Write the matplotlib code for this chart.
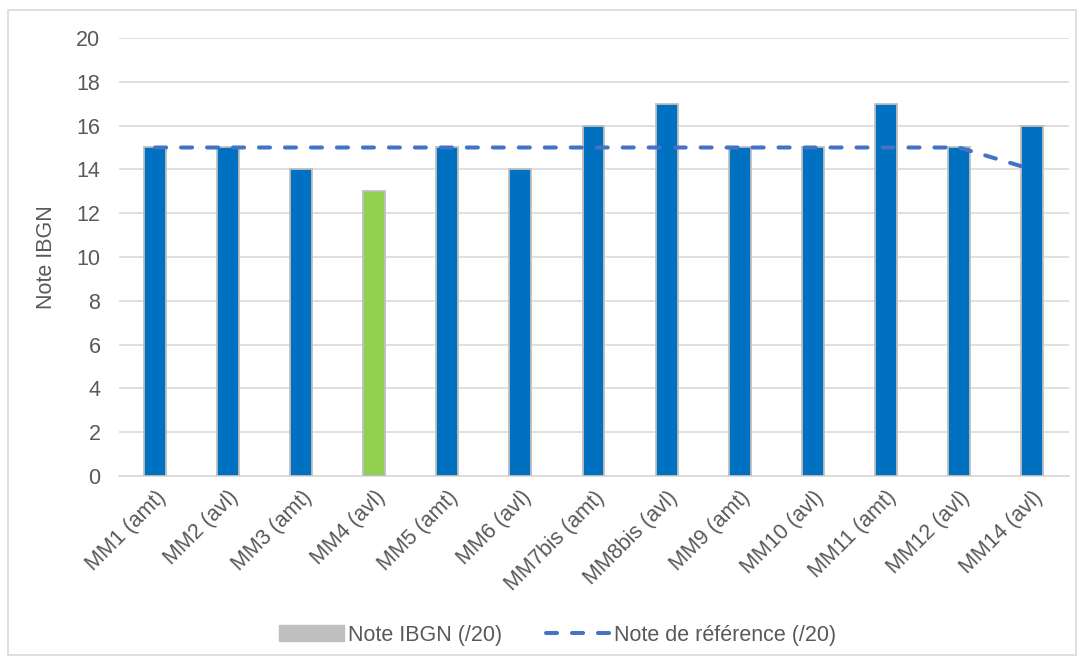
import matplotlib
matplotlib.use("Agg")
import matplotlib.pyplot as plt
from matplotlib.patches import Patch, Rectangle
from matplotlib.lines import Line2D

plt.rcParams['font.family'] = ['Liberation Sans', 'DejaVu Sans']

categories = ["MM1 (amt)", "MM2 (avl)", "MM3 (amt)", "MM4 (avl)", "MM5 (amt)", "MM6 (avl)",
              "MM7bis (amt)", "MM8bis (avl)", "MM9 (amt)", "MM10 (avl)", "MM11 (amt)",
              "MM12 (avl)", "MM14 (avl)"]
ibgn = [15, 15, 14, 13, 15, 14, 16, 17, 15, 15, 17, 15, 16]
reference = [15, 15, 15, 15, 15, 15, 15, 15, 15, 15, 15, 15, 14]
bar_colors = ["#0070C0", "#0070C0", "#0070C0", "#92D050", "#0070C0", "#0070C0", "#0070C0",
              "#0070C0", "#0070C0", "#0070C0", "#0070C0", "#0070C0", "#0070C0"]
yticks = [0, 2, 4, 6, 8, 10, 12, 14, 16, 18, 20]

FS = 15.5
DASH = (0, (2.75, 3.7))
W, H = 1081, 661
fig = plt.figure(figsize=(W / 100, H / 100), dpi=100)
ax = fig.add_axes([118.5 / W, 1 - 476 / H, (1068.5 - 118.5) / W, (476 - 38) / H])

x = list(range(len(categories)))
ax.bar(x, ibgn, width=0.3, color=bar_colors, edgecolor="#BFBFBF", linewidth=1.3, zorder=3)
ax.plot(x, reference, color="#4472C4", linewidth=2.9, linestyle=DASH,
        zorder=4, dash_capstyle='round')

ax.set_xlim(-0.5, len(categories) - 0.5)
ax.set_ylim(0, 20)
ax.set_yticks(yticks)
ax.yaxis.grid(True, color="#D9D9D9", linewidth=1.2, zorder=0)
ax.set_axisbelow(True)
for s in ["top", "right", "left"]:
    ax.spines[s].set_visible(False)
ax.spines["bottom"].set_color("#D9D9D9")
ax.spines["bottom"].set_linewidth(1.2)
ax.tick_params(axis="both", length=0, labelsize=FS, labelcolor="#595959")
ax.tick_params(axis="y", pad=13)
ax.set_xticks(x)
ax.set_xticklabels(categories, rotation=45, ha="right", rotation_mode="anchor")
ax.tick_params(axis="x", pad=8)
ax.set_ylabel("Note IBGN", fontsize=FS, color="#595959", labelpad=14)

handles = [Patch(facecolor="#BFBFBF", edgecolor="#BFBFBF"),
           Line2D([0], [0], color="#4472C4", linewidth=2.9, linestyle=DASH,
                  dash_capstyle='round')]
fig.legend(handles, ["Note IBGN (/20)", "Note de référence (/20)"], loc="center",
           bbox_to_anchor=(558 / W, 1 - 635 / H), ncol=2, frameon=False, fontsize=FS,
           labelcolor="#595959", handlelength=3, columnspacing=2.0, handletextpad=0.2)

fig.patches.append(Rectangle((8 / W, 1 - 655 / H), (1076 - 8) / W, (655 - 10) / H,
                             transform=fig.transFigure, fill=False, edgecolor="#D9D9D9",
                             linewidth=1.2))

fig.savefig("out.png", dpi=100)
